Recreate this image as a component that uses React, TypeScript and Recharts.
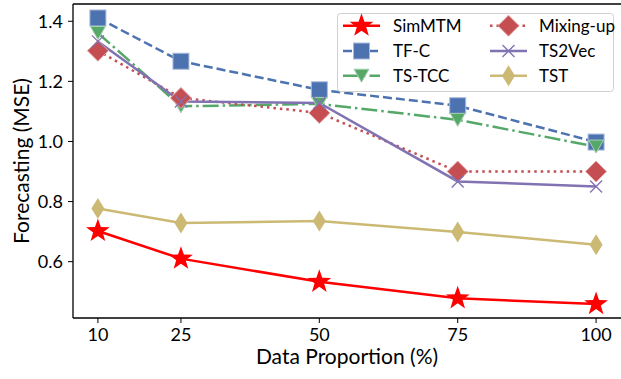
import React from 'react';
import { LineChart, Line, XAxis, YAxis, ReferenceLine, Label } from 'recharts';

const proportions = [10, 25, 50, 75, 100];
const simmtm = [0.702, 0.61, 0.533, 0.478, 0.459];
const tfc = [1.411, 1.267, 1.172, 1.119, 0.998];
const tstcc = [1.361, 1.117, 1.125, 1.072, 0.983];
const mixup = [1.302, 1.145, 1.095, 0.9, 0.9];
const ts2vec = [1.333, 1.133, 1.128, 0.867, 0.85];
const tst = [0.777, 0.729, 0.735, 0.699, 0.656];
const yTicks = [0.6, 0.8, 1.0, 1.2, 1.4];

const Y_MIN = 0.4125;
const Y_MAX = 1.4575;

type Kind = 'star' | 'square' | 'tri' | 'diamond' | 'x' | 'thin';

type Series = { key: string; name: string; values: number[]; color: string; dash?: string; kind: Kind };

const series: Series[] = [
  { key: 'simmtm', name: 'SimMTM', values: simmtm, color: '#ff0000', kind: 'star' },
  { key: 'tfc', name: 'TF-C', values: tfc, color: '#4c72b0', dash: '9 4', kind: 'square' },
  { key: 'tstcc', name: 'TS-TCC', values: tstcc, color: '#55a868', dash: '16 4 2.5 4', kind: 'tri' },
  { key: 'mixup', name: 'Mixing-up', values: mixup, color: '#c44e52', dash: '2.5 4', kind: 'diamond' },
  { key: 'ts2vec', name: 'TS2Vec', values: ts2vec, color: '#8172b2', kind: 'x' },
  { key: 'tst', name: 'TST', values: tst, color: '#ccb974', kind: 'thin' },
];

const data = proportions.map((p, i) => {
  const row: Record<string, number> = { p };
  series.forEach((s) => (row[s.key] = s.values[i]));
  return row;
});

function Marker({ kind, cx, cy, color }: { kind: Kind; cx: number; cy: number; color: string }) {
  if (cx == null || cy == null) return null;
  switch (kind) {
    case 'star': {
      const pts: string[] = [];
      for (let k = 0; k < 10; k++) {
        const r = k % 2 === 0 ? 12.5 : 5;
        const a = -Math.PI / 2 + (k * Math.PI) / 5;
        pts.push(`${cx + r * Math.cos(a)},${cy + r * Math.sin(a)}`);
      }
      return <polygon points={pts.join(' ')} fill={color} />;
    }
    case 'square':
      return <rect x={cx - 8} y={cy - 8} width={16} height={16} fill={color} stroke="#a9bbdc" strokeWidth={1} />;
    case 'tri':
      return (
        <polygon
          points={`${cx - 7.5},${cy - 6.5} ${cx + 7.5},${cy - 6.5} ${cx},${cy + 6.5}`}
          fill={color}
          stroke="#a6d1b0"
          strokeWidth={1}
        />
      );
    case 'diamond':
      return (
        <polygon
          points={`${cx},${cy - 10.5} ${cx + 10.5},${cy} ${cx},${cy + 10.5} ${cx - 10.5},${cy}`}
          fill={color}
          stroke="#e3a9ab"
          strokeWidth={1}
        />
      );
    case 'x':
      return (
        <g stroke={color} strokeWidth={1.3}>
          <line x1={cx - 6} y1={cy - 6} x2={cx + 6} y2={cy + 6} />
          <line x1={cx - 6} y1={cy + 6} x2={cx + 6} y2={cy - 6} />
        </g>
      );
    case 'thin':
      return (
        <polygon
          points={`${cx},${cy - 10.5} ${cx + 6.5},${cy} ${cx},${cy + 10.5} ${cx - 6.5},${cy}`}
          fill={color}
        />
      );
  }
  return null;
}

function LegendBox() {
  const rows = [25.7, 51, 75.7];
  const cols = [
    { line: 6, text: 56 },
    { line: 153, text: 202 },
  ];
  return (
    <svg width={278} height={80} style={{ display: 'block', fontFamily: 'Lato, sans-serif' }}>
      <rect x={0.5} y={0.5} width={276} height={78} rx={3} fill="#fff" fillOpacity={0.8} stroke="#d0d0d0" />
      {series.map((s, i) => {
        const col = cols[Math.floor(i / 3)];
        const y = rows[i % 3] - 13;
        return (
          <g key={s.key}>
            <line
              x1={col.line}
              x2={col.line + 37}
              y1={y}
              y2={y}
              stroke={s.color}
              strokeWidth={2.5}
              strokeDasharray={s.dash}
            />
            <Marker kind={s.kind} cx={col.line + 18.5} cy={y} color={s.color} />
            <text x={col.text} y={y + 6} fontSize={17} fill="#000">
              {s.name}
            </text>
          </g>
        );
      })}
    </svg>
  );
}

export default function App() {
  return (
    <div
      style={{
        position: 'absolute',
        left: 0,
        top: 0,
        width: 621,
        height: 379,
        fontFamily: 'Lato, sans-serif',
        background: '#fff',
      }}
    >
      <LineChart width={621} height={379} data={data} margin={{ top: 4, right: 0, left: 0, bottom: 0 }}>
        <XAxis
          dataKey="p"
          type="number"
          domain={[5.5, 104.5]}
          ticks={proportions}
          height={61}
          stroke="#000"
          axisLine={{ stroke: '#000', strokeWidth: 1.3 }}
          tick={{ fill: '#000', fontSize: 18 }}
          tickSize={5}
          tickMargin={5}
          allowDataOverflow
        >
          <Label value="Data Proportion (%)" position="insideBottom" offset={15} fill="#000" fontSize={21} />
        </XAxis>
        <YAxis
          type="number"
          domain={[Y_MIN, Y_MAX]}
          ticks={yTicks}
          width={73}
          stroke="#000"
          axisLine={{ stroke: '#000', strokeWidth: 1.3 }}
          tick={{ fill: '#000', fontSize: 18 }}
          tickFormatter={(v: number) => v.toFixed(1)}
          tickSize={5}
          tickMargin={5}
          allowDataOverflow
        >
          <Label
            value="Forecasting (MSE)"
            angle={-90}
            position="center"
            dx={-15}
            style={{ textAnchor: 'middle' }}
            fill="#000"
            fontSize={21}
          />
        </YAxis>
        <ReferenceLine y={Y_MAX} stroke="#000" strokeWidth={1.3} />
        {series.map((s) => (
          <Line
            key={s.key}
            dataKey={s.key}
            name={s.name}
            stroke={s.color}
            strokeWidth={2.5}
            strokeDasharray={s.dash}
            isAnimationActive={false}
            activeDot={false}
            dot={(props: any) => (
              <Marker key={`${s.key}-${props.index}`} kind={s.kind} cx={props.cx} cy={props.cy} color={s.color} />
            )}
          />
        ))}
      </LineChart>
      <div style={{ position: 'absolute', left: 337, top: 13 }}>
        <LegendBox />
      </div>
    </div>
  );
}
